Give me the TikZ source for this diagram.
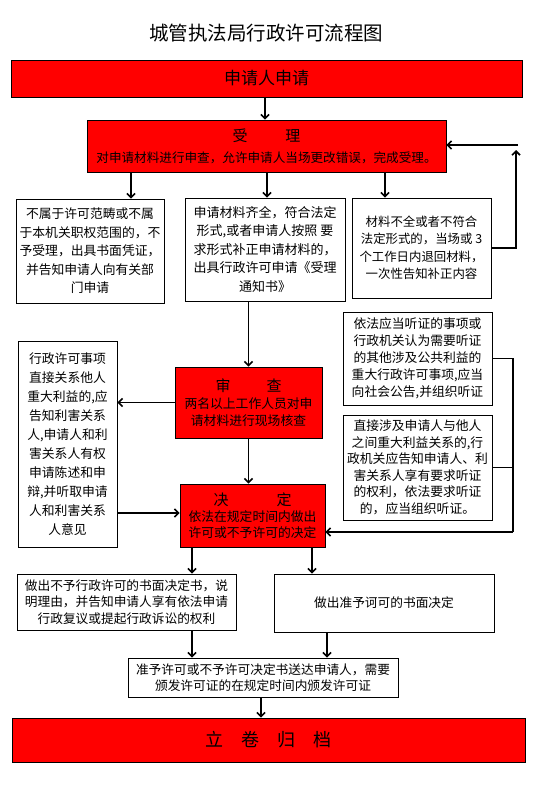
\documentclass[tikz,border=0pt]{standalone}
\usepackage{fontspec}
\setmainfont{Noto Sans CJK SC}
\usetikzlibrary{arrows.meta}

\tikzset{
  redbox/.style={draw, line width=.8pt, fill=red, align=center, inner sep=0pt},
  whitebox/.style={draw, line width=.8pt, fill=white, align=center, inner sep=0pt},
  link/.style={line width=1.6pt},
  arr/.style={line width=1.6pt, -{Straight Barb[length=4pt,width=8pt]}},
}

\begin{document}
\begin{tikzpicture}[x=1pt,y=-1pt]

\useasboundingbox (0,0) rectangle (538,787);

%%%%%% title and application

%title
\node[font=\fontsize{19.5}{22}\selectfont] (title) at (266,33) {城管执法局行政许可流程图};

%application
\node[redbox, minimum width=511pt, minimum height=37pt, font=\fontsize{17}{20}\selectfont] (apply) at (266.5,78.5) {申请人申请};

%acceptance
\node[redbox, minimum width=359pt, minimum height=52pt, font=\fontsize{12.6}{17}\selectfont] (accept) at (266.5,146)
  {{\fontsize{15}{17}\selectfont 受\hspace{38pt}理}\\[4pt]对申请材料进行申查，允许申请人当场更改错误，完成受理。};

%%%%%% three results of acceptance

%not in scope
\node[whitebox, minimum width=148pt, minimum height=104pt, font=\fontsize{12.8}{18.5}\selectfont] (nofit) at (90,251)
  {不属于许可范畴或不属\\于本机关职权范围的，不\\予受理，出具书面凭证，\\并告知申请人向有关部\\门申请};

%complete
\node[whitebox, minimum width=160pt, minimum height=103pt, font=\fontsize{13}{18.5}\selectfont] (complete) at (265,249.5)
  {申请材料齐全，符合法定\\形式,或者申请人按照 要\\求形式补正申请材料的，\\出具行政许可申请《受理\\通知书》};

%incomplete
\node[whitebox, minimum width=139pt, minimum height=100pt, font=\fontsize{12.4}{17.5}\selectfont] (incomplete) at (421.5,248)
  {材料不全或者不符合\\法定形式的，当场或 3\\个工作日内退回材料，\\一次性告知补正内容};

%%%%%% review and decision

%review
\node[redbox, minimum width=147pt, minimum height=71pt, font=\fontsize{12.8}{17}\selectfont] (check) at (248.5,402.5)
  {{\fontsize{15}{17}\selectfont 审\hspace{36pt}查}\\两名以上工作人员对申\\请材料进行现场核查};

%decision
\node[redbox, minimum width=145pt, minimum height=63pt, font=\fontsize{12.8}{16}\selectfont] (decide) at (252.5,515.5)
  {{\fontsize{15}{17}\selectfont 决\hspace{48pt}定}\\依法在规定时间内做出\\许可或不予许可的决定};

%interested parties
\node[whitebox, minimum width=99pt, minimum height=206pt, font=\fontsize{12.8}{19}\selectfont] (hear) at (67.5,444)
  {行政许可事项\\直接关系他人\\重大利益的,应\\告知利害关系\\人,申请人和利\\害关系人有权\\申请陈述和申\\辩,并听取申请\\人和利害关系\\人意见};

%public hearing
\node[whitebox, minimum width=149pt, minimum height=93pt, font=\fontsize{12.8}{17}\selectfont] (public) at (417.5,358.5)
  {依法应当听证的事项或\\行政机关认为需要听证\\的其他涉及公共利益的\\重大行政许可事项,应当\\向社会公告,并组织听证};

%hearing on request
\node[whitebox, minimum width=149pt, minimum height=105pt, font=\fontsize{12.8}{16.5}\selectfont] (interest) at (417.5,467.5)
  {直接涉及申请人与他人\\之间重大利益关系的,行\\政机关应告知申请人、利\\害关系人享有要求听证\\的权利，依法要求听证\\的，应当组织听证。};

%%%%%% written decisions and archive

%refusal
\node[whitebox, minimum width=219pt, minimum height=56pt, font=\fontsize{12.7}{16.5}\selectfont] (refuse) at (126.5,602)
  {做出不予行政许可的书面决定书，说\\明理由，并告知申请人享有依法申请\\行政复议或提起行政诉讼的权利};

%grant
\node[whitebox, minimum width=220pt, minimum height=58pt, font=\fontsize{12.7}{16.5}\selectfont] (grant) at (384,603)
  {做出准予诃可的书面决定};

%delivery
\node[whitebox, minimum width=270pt, minimum height=39pt, font=\fontsize{12.7}{16}\selectfont] (deliver) at (263,677.5)
  {准予许可或不予许可决定书送达申请人，需要\\颁发许可证的在规定时间内颁发许可证};

%archive
\node[redbox, minimum width=513pt, minimum height=44pt, font=\fontsize{18}{20}\selectfont] (archive) at (268.5,740)
  {立\hspace{18pt}卷\hspace{18pt}归\hspace{18pt}档};

%%%%%% connectors

%application to acceptance
\draw[arr] (265,0 |- apply.south) -- (265,0 |- accept.north);

%acceptance to results
\draw[arr] (131,0 |- accept.south) -- (131,0 |- nofit.north);
\draw[arr] (267,0 |- accept.south) -- (267,0 |- complete.north);
\draw[arr] (385,0 |- accept.south) -- (385,0 |- incomplete.north);

%back to acceptance
\coordinate (loopup) at (516,150);
\coordinate (loopin) at (518,145);
\draw[arr] (incomplete.east) -| (loopup);
\draw[arr] (loopin) -- (loopin -| accept.east);

%complete to review
\draw[arr] (check.north |- complete.south) -- (check.north);

%review to parties, parties to decision
\draw[arr] (check.west) -- (check.west -| hear.east);
\draw[arr] (hear.east |- 0,513) -- (decide.west |- 0,513);

%review to decision
\draw[arr] (check.south) -- (check.south |- decide.north);

%hearings to decision
\coordinate (hearjoin) at (513,532);
\draw[link] (public.east) -| (hearjoin);
\draw[link] (interest.east) -- (interest.east -| hearjoin);
\draw[arr] (hearjoin) -- (hearjoin -| decide.east);

%decision to written decisions
\draw[arr] (192,0 |- decide.south) -- (192,0 |- refuse.north);
\draw[arr] (312,0 |- decide.south) -- (312,0 |- grant.north);

%written decisions to delivery
\draw[arr] (192,0 |- refuse.south) -- (192,0 |- deliver.north);
\draw[arr] (327,0 |- grant.south) -- (327,0 |- deliver.north);

%delivery to archive
\draw[arr] (261,0 |- deliver.south) -- (261,0 |- archive.north);

\end{tikzpicture}
\end{document}
